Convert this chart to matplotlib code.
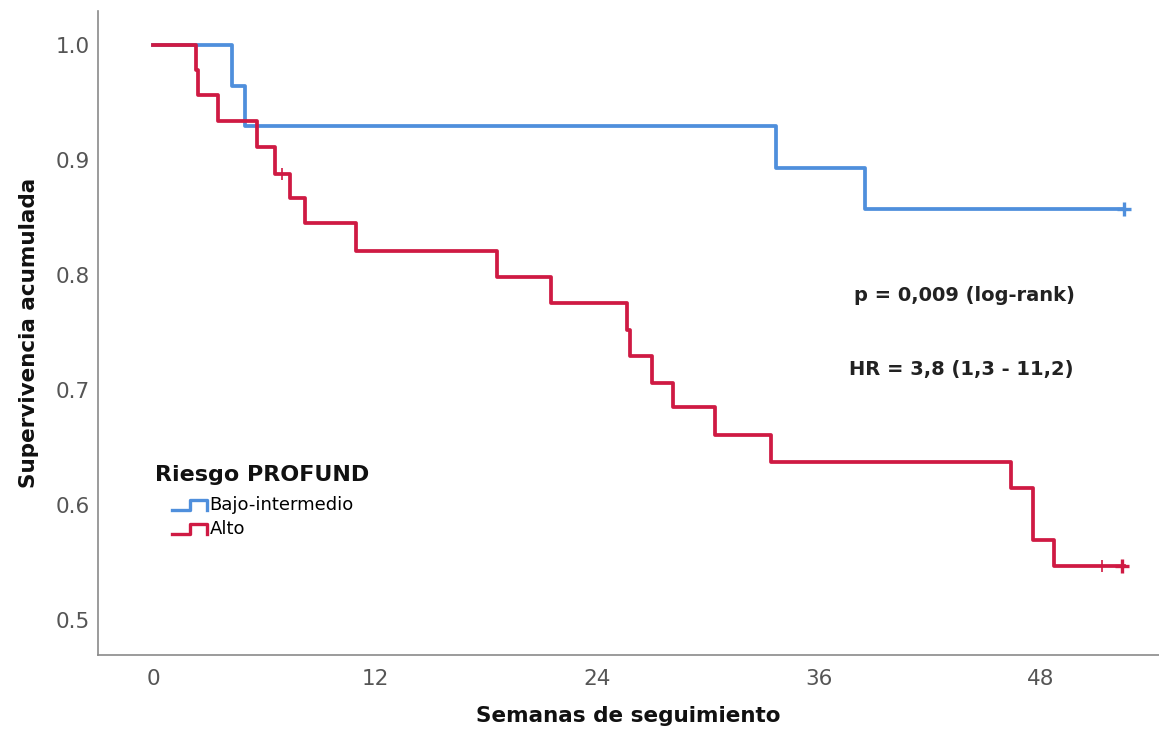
import matplotlib
matplotlib.use("Agg")
import matplotlib.pyplot as plt
from matplotlib.lines import Line2D
from matplotlib.legend_handler import HandlerBase

# ---- Kaplan-Meier step data (weeks, survival)
blue_times = [0, 4.3, 5.0, 33.7, 38.5, 52.5]
blue_surv = [1.0, 0.964, 0.929, 0.893, 0.857, 0.857]
blue_censor_t = [52.5]
blue_censor_s = [0.857]

red_times = [0, 2.3, 2.45, 3.5, 5.6, 6.6, 7.4, 8.2, 11.0, 18.6, 21.5,
             25.65, 25.8, 27.0, 28.1, 30.4, 33.4, 46.4, 47.6, 48.7, 52.5]
red_surv = [1.0, 0.978, 0.956, 0.934, 0.911, 0.888, 0.867, 0.845, 0.821,
            0.798, 0.776, 0.752, 0.730, 0.706, 0.685, 0.661, 0.638, 0.615,
            0.570, 0.547, 0.547]
red_censor_t = [7.0, 51.3, 52.4]
red_censor_s = [0.888, 0.547, 0.547]

group_labels = ["Bajo-intermedio", "Alto"]
x_ticks = [0, 12, 24, 36, 48]
y_ticks = [0.5, 0.6, 0.7, 0.8, 0.9, 1.0]

BLUE = "#4f8fdc"
RED = "#cf1a43"


class StepHandler(HandlerBase):
    """Legend handle drawn as a small survival step."""
    def create_artists(self, legend, orig_handle, xdescent, ydescent,
                       width, height, fontsize, trans):
        x0, x1 = -xdescent, -xdescent + width
        lo, hi = -ydescent + height * 0.05, -ydescent + height * 0.8
        xm = x0 + width * 0.5
        line = Line2D([x0, xm, xm, x1, x1], [lo, lo, hi, hi, lo],
                      color=orig_handle.get_color(), linewidth=2.4,
                      transform=trans)
        return [line]


fig = plt.figure(figsize=(11.59, 7.34), dpi=100)
ax = fig.add_axes([0.0846, 0.1076, 0.9154, 0.878])

h_blue, = ax.step(blue_times, blue_surv, where="post", color=BLUE,
                  linewidth=2.7, label=group_labels[0])
h_red, = ax.step(red_times, red_surv, where="post", color=RED,
                 linewidth=2.7, label=group_labels[1])
ax.plot(blue_censor_t, blue_censor_s, linestyle="none", marker="+",
        markersize=10, markeredgewidth=2.4, color=BLUE)
ax.plot(red_censor_t, red_censor_s, linestyle="none", marker="|",
        markersize=9, markeredgewidth=1.2, color=RED)
ax.plot(red_censor_t[-1:], red_censor_s[-1:], linestyle="none", marker="+",
        markersize=10, markeredgewidth=2.4, color=RED)

ax.set_xlim(-2.97, 54.4)
ax.set_ylim(0.47, 1.0295)
ax.set_xticks(x_ticks)
ax.set_yticks(y_ticks)
ax.set_yticklabels([f"{v:.1f}" for v in y_ticks])
ax.tick_params(axis="both", length=0, labelsize=15.5, colors="#555555")
ax.tick_params(axis="x", pad=10)
ax.tick_params(axis="y", pad=6)
for side in ["top", "right"]:
    ax.spines[side].set_visible(False)
for side in ["left", "bottom"]:
    ax.spines[side].set_color("#8a8a8a")
    ax.spines[side].set_linewidth(1.2)

ax.set_xlabel("Semanas de seguimiento", fontsize=15.5, fontweight="bold",
              labelpad=12, color="#111111")
ax.set_ylabel("Supervivencia acumulada", fontsize=15.5, fontweight="bold",
              labelpad=12, color="#111111")

ax.text(43.9, 0.782, "p = 0,009 (log-rank)", fontsize=14,
        fontweight="bold", ha="center", va="center", color="#222222")
ax.text(43.7, 0.718, "HR = 3,8 (1,3 - 11,2)", fontsize=14,
        fontweight="bold", ha="center", va="center", color="#222222")

# Legend: title as its own text, entries indented under it
ax.text(0.0537, 0.279, "Riesgo PROFUND", transform=ax.transAxes,
        fontsize=16, fontweight="bold", ha="left", va="center",
        color="#111111")
ax.legend([h_blue, h_red], group_labels,
          handler_map={Line2D: StepHandler()},
          loc="upper left", bbox_to_anchor=(0.0697, 0.246), frameon=False,
          fontsize=13, handlelength=1.95, handletextpad=0.12,
          labelspacing=0.33, borderaxespad=0, borderpad=0)

fig.savefig("out.png", dpi=100)
